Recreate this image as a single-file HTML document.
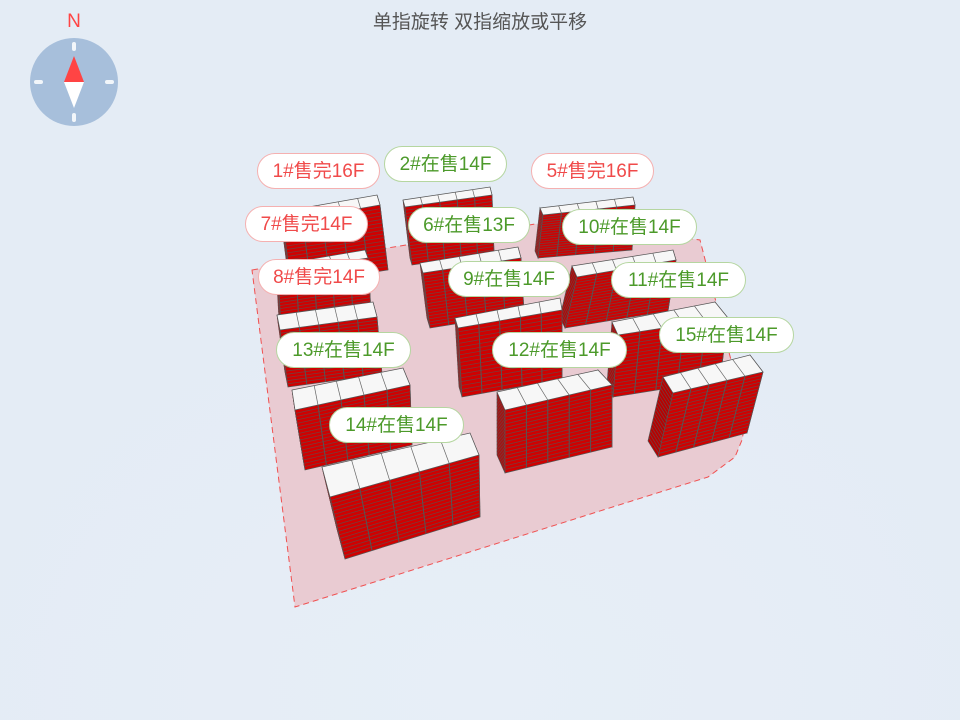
<!DOCTYPE html>
<html><head><meta charset="utf-8"><style>
html,body{margin:0;padding:0}
body{width:960px;height:720px;overflow:hidden;background:#e4ecf5;font-family:"Liberation Sans","Noto Sans CJK SC",sans-serif;position:relative}
#t{position:absolute;top:7px;left:0;width:960px;text-align:center;color:#555;font-size:19px}
.lb{position:absolute;height:36px;line-height:36px;border-radius:19px;background:#fff;font-size:19px;text-align:center;box-sizing:border-box}
.r{color:#f04a4a;border:1px solid #f5b0b0}
.g{color:#4c9a2a;border:1px solid #b5d6a0}
</style></head><body>
<svg id="s" width="960" height="720" style="position:absolute;left:0;top:0">
<defs><radialGradient id="bg" cx="0.5" cy="0.95" r="0.6"><stop offset="0" stop-color="#e7eef7"/><stop offset="1" stop-color="#e4ecf5"/></radialGradient></defs>
<rect width="960" height="720" fill="url(#bg)"/>
<polygon points="252,270 560,220 700,240 746,418 742,440 735,457 708,477 295,607" fill="#e9cbd2" stroke="#f05050" stroke-width="1" stroke-dasharray="6,4"/>
<circle cx="74" cy="82" r="44" fill="#a7bfdb"/>
<rect x="72" y="42" width="4" height="9" rx="2" fill="#fff" opacity=".85"/>
<rect x="72" y="113" width="4" height="9" rx="2" fill="#fff" opacity=".85"/>
<rect x="34" y="80" width="9" height="4" rx="2" fill="#fff" opacity=".85"/>
<rect x="105" y="80" width="9" height="4" rx="2" fill="#fff" opacity=".85"/>
<polygon points="74,56 64,82 84,82" fill="#f44"/>
<polygon points="74,108 64,82 84,82" fill="#fff"/>
<text x="74" y="27" text-anchor="middle" fill="#f44" font-size="19" font-family="Liberation Sans">N</text>
<g id="bl"></g>
</svg>
<div id="t">单指旋转 双指缩放或平移</div>
<div class="lb r" style="left:257px;top:153px;width:123px">1#售完16F</div>
<div class="lb g" style="left:384px;top:146px;width:123px">2#在售14F</div>
<div class="lb r" style="left:531px;top:153px;width:123px">5#售完16F</div>
<div class="lb r" style="left:245px;top:206px;width:123px">7#售完14F</div>
<div class="lb g" style="left:408px;top:207px;width:122px">6#在售13F</div>
<div class="lb g" style="left:562px;top:209px;width:135px">10#在售14F</div>
<div class="lb r" style="left:258px;top:259px;width:122px">8#售完14F</div>
<div class="lb g" style="left:448px;top:261px;width:122px">9#在售14F</div>
<div class="lb g" style="left:611px;top:262px;width:135px">11#在售14F</div>
<div class="lb g" style="left:276px;top:332px;width:135px">13#在售14F</div>
<div class="lb g" style="left:492px;top:332px;width:135px">12#在售14F</div>
<div class="lb g" style="left:659px;top:317px;width:135px">15#在售14F</div>
<div class="lb g" style="left:329px;top:407px;width:135px">14#在售14F</div>
<script>
var B=[
[[403,200],[490,187],[492,195],[405,207],[7,58],[2,58]],
[[540,208],[633,197],[635,205],[543,215],[-5,43],[-3,45]],
[[280,212],[377,195],[380,205],[283,222],[8,62],[8,65]],
[[420,263],[518,247],[521,258],[423,273],[7,55],[3,55]],
[[572,266],[673,250],[676,260],[577,277],[-12,51],[-8,51]],
[[276,265],[365,250],[368,258],[278,272],[3,55],[3,55]],
[[455,318],[560,298],[562,310],[458,328],[4,69],[0,69]],
[[612,322],[715,302],[728,318],[618,335],[-5,62],[-8,62]],
[[277,315],[373,302],[377,317],[280,330],[8,57],[5,57]],
[[663,377],[750,355],[763,372],[673,393],[-15,64],[-16,61]],
[[292,390],[403,368],[410,385],[295,410],[10,60],[2,60]],
[[497,392],[598,370],[612,385],[505,410],[0,63],[0,62]],
[[322,467],[470,433],[479,455],[330,497],[15,62],[1,62]]
];
function P(p){return p.map(function(q){return q[0].toFixed(1)+','+q[1].toFixed(1)}).join(' ')}
function L(a,b,t){return [a[0]+(b[0]-a[0])*t,a[1]+(b[1]-a[1])*t]}
function A(p,v){return [p[0]+v[0],p[1]+v[1]]}
function face(a,b,c,d,fill,n){
 var s='<polygon points="'+P([a,b,c,d])+'" fill="'+fill+'" stroke="#555" stroke-width="0.7"/>';
 for(var k=1;k<18;k++){var t=k/18,p=L(a,d,t),q=L(b,c,t);s+='<line x1="'+p[0]+'" y1="'+p[1]+'" x2="'+q[0]+'" y2="'+q[1]+'" stroke="#7a3a3a" stroke-width="0.8"/>';}
 for(var k=1;k<n;k++){var t=k/n,p=L(a,b,t),q=L(d,c,t);s+='<line x1="'+p[0]+'" y1="'+p[1]+'" x2="'+q[0]+'" y2="'+q[1]+'" stroke="#555" stroke-width="1"/>';}
 return s;}
var h='';
B.forEach(function(b){
 var BL=b[0],BR=b[1],FR=b[2],FL=b[3],vl=b[4],vr=b[5];
 h+=face(BL,FL,A(FL,vl),A(BL,vl),'#b80000',1);
 h+=face(FR,BR,A(BR,vr),A(FR,vr),'#b80000',1);
 h+=face(FL,FR,A(FR,vr),A(FL,vl),'#d00000',5);
 h+='<polygon points="'+P([BL,BR,FR,FL])+'" fill="#f7f7f7" stroke="#555" stroke-width="0.7"/>';
 for(var k=1;k<5;k++){var p=L(BL,BR,k/5),q=L(FL,FR,k/5);h+='<line x1="'+p[0]+'" y1="'+p[1]+'" x2="'+q[0]+'" y2="'+q[1]+'" stroke="#666" stroke-width="0.7"/>';}
});
document.getElementById('bl').innerHTML=h;
</script>
</body></html>
